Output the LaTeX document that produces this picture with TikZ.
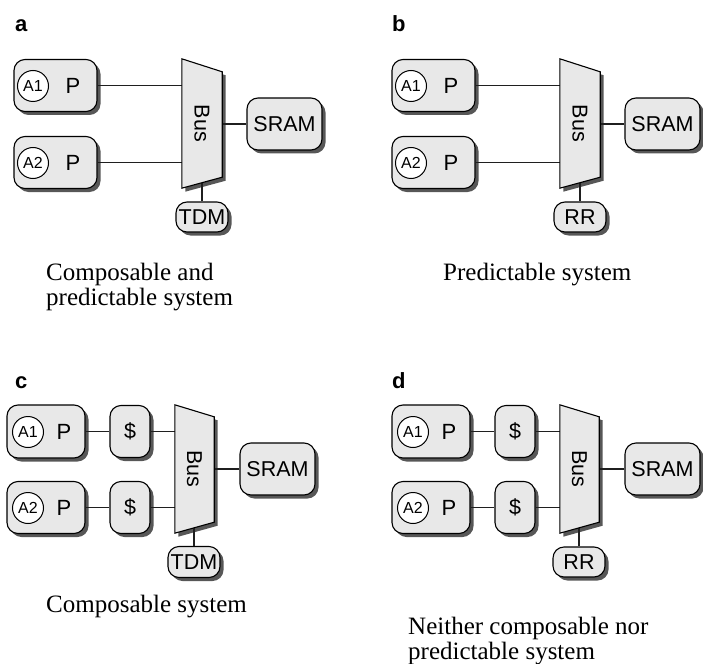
\documentclass[tikz,border=0pt]{standalone}
\usepackage{fontspec}
\setmainfont{Liberation Serif}
\setsansfont{Liberation Sans}
\usetikzlibrary{shadows,calc}
\definecolor{boxfill}{gray}{0.91}
\definecolor{shadowc}{gray}{0.34}
\definecolor{linec}{gray}{0.12}
\tikzset{
  unit/.style={draw=black, line width=1.1pt, fill=boxfill, rounded corners=11pt, inner sep=0pt,
    font=\sffamily\fontsize{21.5}{25}\selectfont,
    drop shadow={shadow xshift=3.5pt, shadow yshift=-3.5pt, fill=shadowc, opacity=1}},
  appc/.style={circle, draw=black, line width=1pt, fill=white, minimum size=31pt, inner sep=0pt,
    font=\sffamily\fontsize{16}{18}\selectfont},
  ptext/.style={font=\sffamily\fontsize{22}{25}\selectfont, inner sep=0pt},
  wire/.style={draw=linec, line width=1.1pt},
  capt/.style={font=\fontsize{25}{25}\selectfont, align=left, inner sep=0pt, anchor=base west},
  plabel/.style={font=\sffamily\bfseries\fontsize{22}{25}\selectfont, inner sep=0pt, anchor=base west},
  busab/.style={minimum width=40pt, minimum height=129pt, inner sep=0pt},
  buscd/.style={minimum width=39pt, minimum height=128pt, inner sep=0pt},
  bustext/.style={font=\sffamily\fontsize{21.5}{25}\selectfont, inner sep=0pt, rotate=-90},
  busshape/.style={fill=boxfill, draw=black, line width=1.1pt, line join=miter},
}
\begin{document}
\begin{tikzpicture}[x=1pt,y=-1pt]
\useasboundingbox (0,0) rectangle (703,663);

% ---------------- panel a ----------------
\node[plabel] (la) at (15,32) {a};
\node[unit, minimum width=83pt, minimum height=52pt] (pa1) at (55.5,85.5) {};
\node[appc] (aa1) at (33,86) {A1};
\node[ptext] (ta1) at (73,86) {P};
\node[unit, minimum width=83pt, minimum height=52pt] (pa2) at (55.5,162.5) {};
\node[appc] (aa2) at (33,163) {A2};
\node[ptext] (ta2) at (73,163) {P};
\node[unit, minimum width=75pt, minimum height=52pt] (sra) at (284.5,124) {SRAM};
\node[unit, minimum width=52pt, minimum height=30pt] (arba) at (202,217) {TDM};
\node[busab] (busa) at (202,123.5) {};
\fill[shadowc] ($(busa.north west)+(3.5,3.5)$) -- ($(busa.north east)+(3.5,16.5)$) -- ($(busa.south east)+(3.5,-7.5)$) -- ($(busa.south west)+(3.5,3.5)$) -- cycle;
\draw[wire] (pa1.east) -- (pa1.east -| busa.center);
\draw[wire] (pa2.east) -- (pa2.east -| busa.center);
\draw[wire] (sra.west) -- (sra.west -| busa.center);
\draw[wire] (arba.north) -- (arba.north |- busa.center);
\path[busshape] (busa.north west) -- ($(busa.north east)+(0,13)$) -- ($(busa.south east)+(0,-11)$) -- (busa.south west) -- cycle;
\node[bustext] (bta) at (busa.center) {Bus};
\node[capt] (capa) at (46,305) {Composable and\\predictable system};

% ---------------- panel b ----------------
\node[plabel] (lb) at (392,32) {b};
\node[unit, minimum width=83pt, minimum height=52pt] (pb1) at (433.5,85.5) {};
\node[appc] (ab1) at (411,86) {A1};
\node[ptext] (tb1) at (451,86) {P};
\node[unit, minimum width=83pt, minimum height=52pt] (pb2) at (433.5,162.5) {};
\node[appc] (ab2) at (411,163) {A2};
\node[ptext] (tb2) at (451,163) {P};
\node[unit, minimum width=75pt, minimum height=52pt] (srb) at (662.5,124) {SRAM};
\node[unit, minimum width=52pt, minimum height=30pt] (arbb) at (580,217) {RR};
\node[busab] (busb) at (580,123.5) {};
\fill[shadowc] ($(busb.north west)+(3.5,3.5)$) -- ($(busb.north east)+(3.5,16.5)$) -- ($(busb.south east)+(3.5,-7.5)$) -- ($(busb.south west)+(3.5,3.5)$) -- cycle;
\draw[wire] (pb1.east) -- (pb1.east -| busb.center);
\draw[wire] (pb2.east) -- (pb2.east -| busb.center);
\draw[wire] (srb.west) -- (srb.west -| busb.center);
\draw[wire] (arbb.north) -- (arbb.north |- busb.center);
\path[busshape] (busb.north west) -- ($(busb.north east)+(0,13)$) -- ($(busb.south east)+(0,-11)$) -- (busb.south west) -- cycle;
\node[bustext] (btb) at (busb.center) {Bus};
\node[capt] (capb) at (443,280) {Predictable system};

% ---------------- panel c ----------------
\node[plabel] (lc) at (15,388) {c};
\node[unit, minimum width=78pt, minimum height=53pt] (pc1) at (46,431.5) {};
\node[appc] (ac1) at (28,432) {A1};
\node[ptext] (tc1) at (64,432) {P};
\node[unit, minimum width=78pt, minimum height=52pt] (pc2) at (46,507.5) {};
\node[appc] (ac2) at (28,508) {A2};
\node[ptext] (tc2) at (64,508) {P};
\node[unit, minimum width=40pt, minimum height=52pt] (dc1) at (130,431.5) {\$};
\node[unit, minimum width=40pt, minimum height=52pt] (dc2) at (130,507.5) {\$};
\node[unit, minimum width=75pt, minimum height=52pt] (src) at (277.5,469) {SRAM};
\node[unit, minimum width=52pt, minimum height=31pt] (arbc) at (194,562) {TDM};
\node[buscd] (busc) at (194.5,469) {};
\fill[shadowc] ($(busc.north west)+(3.5,3.5)$) -- ($(busc.north east)+(3.5,15.5)$) -- ($(busc.south east)+(3.5,-7.5)$) -- ($(busc.south west)+(3.5,3.5)$) -- cycle;
\draw[wire] (pc1.east) -- (dc1.west);
\draw[wire] (pc2.east) -- (dc2.west);
\draw[wire] (dc1.east) -- (dc1.east -| busc.center);
\draw[wire] (dc2.east) -- (dc2.east -| busc.center);
\draw[wire] (src.west) -- (src.west -| busc.center);
\draw[wire] (arbc.north) -- (arbc.north |- busc.center);
\path[busshape] (busc.north west) -- ($(busc.north east)+(0,12)$) -- ($(busc.south east)+(0,-11)$) -- (busc.south west) -- cycle;
\node[bustext] (btc) at (busc.center) {Bus};
\node[capt] (capc) at (46,612) {Composable system};

% ---------------- panel d ----------------
\node[plabel] (ld) at (392,388) {d};
\node[unit, minimum width=78pt, minimum height=53pt] (pd1) at (431,431.5) {};
\node[appc] (ad1) at (413,432) {A1};
\node[ptext] (td1) at (449,432) {P};
\node[unit, minimum width=78pt, minimum height=52pt] (pd2) at (431,507.5) {};
\node[appc] (ad2) at (413,508) {A2};
\node[ptext] (td2) at (449,508) {P};
\node[unit, minimum width=40pt, minimum height=52pt] (dd1) at (515,431.5) {\$};
\node[unit, minimum width=40pt, minimum height=52pt] (dd2) at (515,507.5) {\$};
\node[unit, minimum width=75pt, minimum height=52pt] (srd) at (662.5,469) {SRAM};
\node[unit, minimum width=52pt, minimum height=30pt] (arbd) at (579,562) {RR};
\node[buscd] (busd) at (579.5,469) {};
\fill[shadowc] ($(busd.north west)+(3.5,3.5)$) -- ($(busd.north east)+(3.5,15.5)$) -- ($(busd.south east)+(3.5,-7.5)$) -- ($(busd.south west)+(3.5,3.5)$) -- cycle;
\draw[wire] (pd1.east) -- (dd1.west);
\draw[wire] (pd2.east) -- (dd2.west);
\draw[wire] (dd1.east) -- (dd1.east -| busd.center);
\draw[wire] (dd2.east) -- (dd2.east -| busd.center);
\draw[wire] (srd.west) -- (srd.west -| busd.center);
\draw[wire] (arbd.north) -- (arbd.north |- busd.center);
\path[busshape] (busd.north west) -- ($(busd.north east)+(0,12)$) -- ($(busd.south east)+(0,-11)$) -- (busd.south west) -- cycle;
\node[bustext] (btd) at (busd.center) {Bus};
\node[capt] (capd) at (408,659) {Neither composable nor\\predictable system};
\end{tikzpicture}
\end{document}
